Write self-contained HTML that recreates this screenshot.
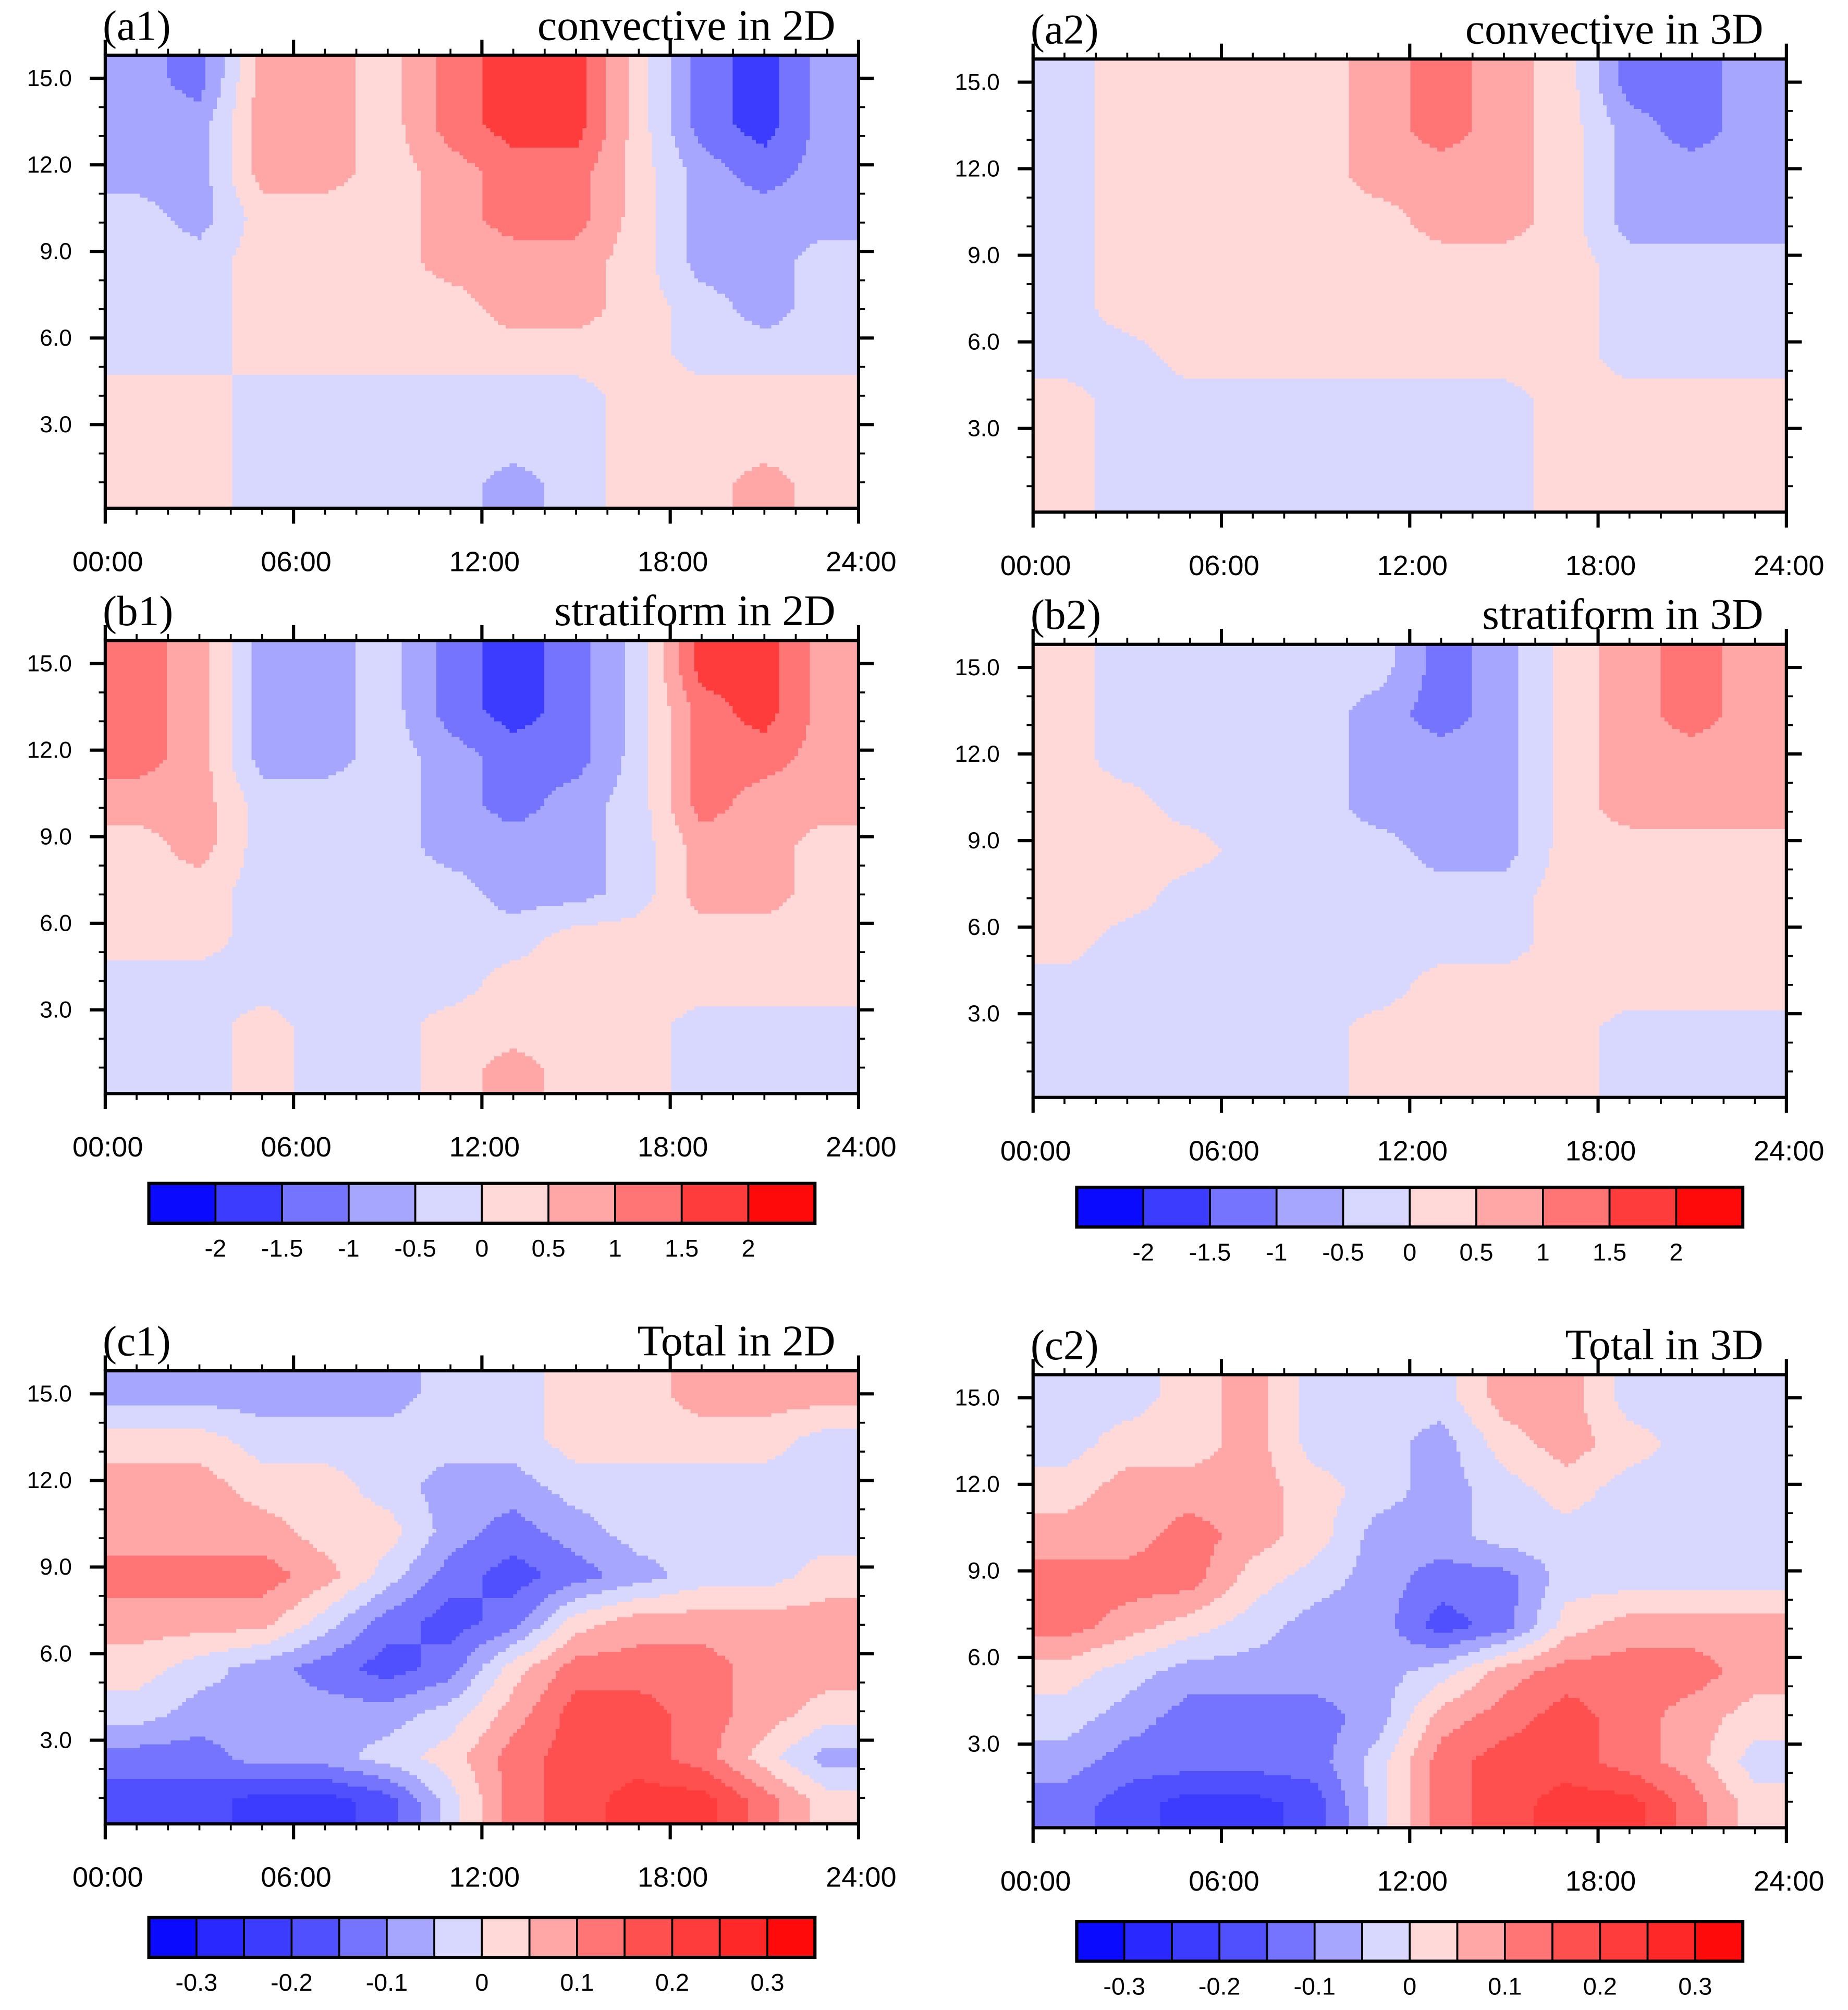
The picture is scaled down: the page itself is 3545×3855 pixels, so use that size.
<!DOCTYPE html>
<html><head><meta charset="utf-8"><style>
html,body{margin:0;padding:0;background:#fff;}
svg{display:block;}
</style></head><body>
<svg id="fig" width="3545" height="3855" viewBox="0 0 1440 1566" preserveAspectRatio="none" xmlns="http://www.w3.org/2000/svg"></svg>
<script>
const NS="http://www.w3.org/2000/svg";
const fig=document.getElementById('fig');
// ---- data ----
const timeTicks=["00:00","06:00","12:00","18:00","24:00"];
const heightTicks=["3.0","6.0","9.0","12.0","15.0"];
const heightTickValues=[3,6,9,12,15];
const timeCenters=[1,3,5,7,9,11,13,15,17,19,21,23];
const heightRowsTopDown=[15.0,13.4,11.8,10.2,8.7,7.1,5.5,3.9,2.4,0.9];
const levelsTop=[-2.5,-2,-1.5,-1,-0.5,0,0.5,1,1.5,2,2.5];
const levelsBottom=[-0.35,-0.3,-0.25,-0.2,-0.15,-0.1,-0.05,0,0.05,0.1,0.15,0.2,0.25,0.3,0.35];
const colorsTop=["#0a0aff","#3c3cff","#7474ff","#a6a6ff","#d8d8ff","#ffd8d8","#ffa6a6","#ff7474","#ff3c3c","#ff0a0a"];
const colorsBottom=["#0a0aff","#2828ff","#3c3cff","#5050ff","#7474ff","#a6a6ff","#d8d8ff","#ffd8d8","#ffa6a6","#ff7474","#ff5050","#ff3c3c","#ff2828","#ff0a0a"];
const cbTopLabels=["-2","-1.5","-1","-0.5","0","0.5","1","1.5","2"];
const cbBottomLabels=["-0.3","-0.2","-0.1","0","0.1","0.2","0.3"];
const a1=[
[-0.75,-1.25,0.75,0.75,0.25,1.25,1.75,1.75,0.25,-1.25,-1.75,-0.75],
[-0.75,-0.75,0.75,0.75,0.25,1.25,1.75,1.75,0.25,-1.25,-1.75,-0.75],
[-0.75,-0.75,0.75,0.75,0.25,0.75,1.25,1.25,0.25,-0.75,-1.25,-0.75],
[-0.25,-0.75,0.25,0.25,0.25,0.75,1.25,1.25,0.25,-0.75,-0.75,-0.75],
[-0.25,-0.25,0.25,0.25,0.25,0.75,0.75,0.75,0.25,-0.75,-0.75,-0.25],
[-0.25,-0.25,0.25,0.25,0.25,0.25,0.75,0.75,0.25,-0.25,-0.75,-0.25],
[-0.25,-0.25,0.25,0.25,0.25,0.25,0.25,0.25,0.25,-0.25,-0.25,-0.25],
[0.25,0.25,-0.25,-0.25,-0.25,-0.25,-0.25,-0.25,0.25,0.25,0.25,0.25],
[0.25,0.25,-0.25,-0.25,-0.25,-0.25,-0.25,-0.25,0.25,0.25,0.25,0.25],
[0.25,0.25,-0.25,-0.25,-0.25,-0.25,-0.75,-0.25,0.25,0.25,0.75,0.25]];
const a2=[
[-0.25,0.25,0.25,0.25,0.25,0.75,1.25,0.75,0.25,-1.25,-1.25,-0.75],
[-0.25,0.25,0.25,0.25,0.25,0.75,1.25,0.75,0.25,-0.75,-1.25,-0.75],
[-0.25,0.25,0.25,0.25,0.25,0.75,0.75,0.75,0.25,-0.75,-0.75,-0.75],
[-0.25,0.25,0.25,0.25,0.25,0.25,0.75,0.75,0.25,-0.75,-0.75,-0.75],
[-0.25,0.25,0.25,0.25,0.25,0.25,0.25,0.25,0.25,-0.25,-0.25,-0.25],
[-0.25,0.25,0.25,0.25,0.25,0.25,0.25,0.25,0.25,-0.25,-0.25,-0.25],
[-0.25,-0.25,0.25,0.25,0.25,0.25,0.25,0.25,0.25,-0.25,-0.25,-0.25],
[0.25,-0.25,-0.25,-0.25,-0.25,-0.25,-0.25,-0.25,0.25,0.25,0.25,0.25],
[0.25,-0.25,-0.25,-0.25,-0.25,-0.25,-0.25,-0.25,0.25,0.25,0.25,0.25],
[0.25,-0.25,-0.25,-0.25,-0.25,-0.25,-0.25,-0.25,0.25,0.25,0.25,0.25]];
const b1=[
[1.25,0.75,-0.75,-0.75,-0.25,-1.25,-1.75,-1.25,-0.25,1.75,1.75,0.75],
[1.25,0.75,-0.75,-0.75,-0.25,-1.25,-1.75,-1.25,-0.25,1.25,1.75,0.75],
[1.25,0.75,-0.75,-0.75,-0.25,-0.75,-1.25,-1.25,-0.25,1.25,1.25,0.75],
[0.75,0.75,-0.25,-0.25,-0.25,-0.75,-1.25,-0.75,-0.25,1.25,0.75,0.75],
[0.25,0.75,-0.25,-0.25,-0.25,-0.75,-0.75,-0.75,-0.25,0.75,0.75,0.25],
[0.25,0.25,-0.25,-0.25,-0.25,-0.25,-0.75,-0.75,-0.25,0.75,0.75,0.25],
[0.25,0.25,-0.25,-0.25,-0.25,-0.25,-0.25,0.25,0.25,0.25,0.25,0.25],
[-0.25,-0.25,-0.25,-0.25,-0.25,-0.25,0.25,0.25,0.25,0.25,0.25,0.25],
[-0.25,-0.25,0.25,-0.25,-0.25,0.25,0.25,0.25,0.25,-0.25,-0.25,-0.25],
[-0.25,-0.25,0.25,-0.25,-0.25,0.25,0.75,0.25,0.25,-0.25,-0.25,-0.25]];
const b2=[
[0.25,-0.25,-0.25,-0.25,-0.25,-0.25,-1.25,-0.75,0.25,0.75,1.25,0.75],
[0.25,-0.25,-0.25,-0.25,-0.25,-0.75,-1.25,-0.75,0.25,0.75,1.25,0.75],
[0.25,-0.25,-0.25,-0.25,-0.25,-0.75,-0.75,-0.75,0.25,0.75,0.75,0.75],
[0.25,0.25,-0.25,-0.25,-0.25,-0.75,-0.75,-0.75,0.25,0.75,0.75,0.75],
[0.25,0.25,0.25,-0.25,-0.25,-0.25,-0.75,-0.75,0.25,0.25,0.25,0.25],
[0.25,0.25,-0.25,-0.25,-0.25,-0.25,-0.25,-0.25,0.25,0.25,0.25,0.25],
[0.25,-0.25,-0.25,-0.25,-0.25,-0.25,-0.25,-0.25,0.25,0.25,0.25,0.25],
[-0.25,-0.25,-0.25,-0.25,-0.25,-0.25,0.25,0.25,0.25,0.25,0.25,0.25],
[-0.25,-0.25,-0.25,-0.25,-0.25,0.25,0.25,0.25,0.25,-0.25,-0.25,-0.25],
[-0.25,-0.25,-0.25,-0.25,-0.25,0.25,0.25,0.25,0.25,-0.25,-0.25,-0.25]];
const c1=[
[-0.075,-0.075,-0.075,-0.075,-0.075,-0.025,-0.025,0.025,0.025,0.075,0.075,0.075],
[0.025,0.025,-0.025,-0.025,-0.025,-0.025,-0.025,0.025,0.025,0.025,0.025,-0.025],
[0.075,0.075,0.025,0.025,-0.025,-0.075,-0.075,-0.025,-0.025,-0.025,-0.025,-0.025],
[0.075,0.075,0.075,0.025,0.025,-0.075,-0.125,-0.075,-0.025,-0.025,-0.025,-0.025],
[0.125,0.125,0.125,0.075,-0.025,-0.125,-0.175,-0.125,-0.075,-0.025,-0.025,0.025],
[0.075,0.075,0.075,-0.025,-0.125,-0.175,-0.125,0.025,0.075,0.075,0.075,0.075],
[0.025,-0.025,-0.075,-0.125,-0.175,-0.125,0.025,0.125,0.125,0.125,0.075,0.075],
[-0.025,-0.075,-0.075,-0.075,-0.075,-0.025,0.075,0.175,0.175,0.125,0.075,0.025],
[-0.125,-0.125,-0.075,-0.075,-0.025,0.025,0.125,0.175,0.175,0.125,0.025,-0.075],
[-0.175,-0.175,-0.225,-0.225,-0.175,-0.025,0.125,0.175,0.225,0.225,0.125,0.025]];
const c2=[
[-0.025,-0.025,0.025,0.075,-0.025,-0.025,-0.025,0.075,0.075,-0.025,-0.025,-0.025],
[-0.025,0.025,0.025,0.075,-0.025,-0.025,-0.075,0.025,0.075,0.025,-0.025,-0.025],
[0.025,0.075,0.075,0.075,0.025,-0.025,-0.075,-0.025,0.025,-0.025,-0.025,-0.025],
[0.075,0.075,0.125,0.075,0.025,-0.075,-0.075,-0.025,-0.025,-0.025,-0.025,-0.025],
[0.125,0.125,0.125,0.025,-0.025,-0.075,-0.125,-0.125,-0.025,-0.025,-0.025,-0.025],
[0.125,0.075,0.025,-0.025,-0.075,-0.075,-0.175,-0.125,0.025,0.075,0.075,0.075],
[0.025,-0.025,-0.075,-0.075,-0.075,-0.075,-0.025,0.075,0.125,0.125,0.125,0.075],
[-0.025,-0.075,-0.125,-0.125,-0.125,-0.075,0.075,0.125,0.175,0.125,0.075,0.025],
[-0.075,-0.125,-0.125,-0.125,-0.125,-0.025,0.125,0.175,0.175,0.125,0.075,-0.025],
[-0.125,-0.175,-0.225,-0.225,-0.175,-0.025,0.125,0.175,0.225,0.225,0.125,0.025]];

function mk(tag,attrs,parent){const e=document.createElementNS(NS,tag);for(const k in attrs)e.setAttribute(k,attrs[k]);(parent||fig).appendChild(e);return e;}
function colorFor(v,levels,colors){for(let i=0;i<colors.length;i++){if(v<levels[i+1])return colors[i];}return colors[colors.length-1];}
function sample(data,t,h){
 const tc=timeCenters, hc=heightRowsTopDown;
 let i=0; if(t<=tc[0]) i=0; else if(t>=tc[tc.length-1]) i=tc.length-2; else {while(tc[i+1]<t)i++;}
 let fx=(t-tc[i])/(tc[i+1]-tc[i]); fx=Math.max(0,Math.min(1,fx));
 let j=0; if(h>=hc[0]) j=0; else if(h<=hc[hc.length-1]) j=hc.length-2; else {while(hc[j+1]>h)j++;}
 let fy=(h-hc[j])/(hc[j+1]-hc[j]); fy=Math.max(0,Math.min(1,fy));
 const v00=data[j][i],v01=data[j][i+1],v10=data[j+1][i],v11=data[j+1][i+1];
 return (v00*(1-fx)+v01*fx)*(1-fy)+(v10*(1-fx)+v11*fx)*fy;
}

const panels=[
 {id:'a1',label:'(a1)',title:'convective in 2D',x:82,y:43,data:a1,lv:levelsTop,cl:colorsTop},
 {id:'a2',label:'(a2)',title:'convective in 3D',x:805,y:46,data:a2,lv:levelsTop,cl:colorsTop},
 {id:'b1',label:'(b1)',title:'stratiform in 2D',x:82,y:499,data:b1,lv:levelsTop,cl:colorsTop},
 {id:'b2',label:'(b2)',title:'stratiform in 3D',x:805,y:502,data:b2,lv:levelsTop,cl:colorsTop},
 {id:'c1',label:'(c1)',title:'Total in 2D',x:82,y:1068,data:c1,lv:levelsBottom,cl:colorsBottom},
 {id:'c2',label:'(c2)',title:'Total in 3D',x:805,y:1071,data:c2,lv:levelsBottom,cl:colorsBottom}];
const W=587,H=353,YMIN=0.1,YMAX=15.8,STEP=3;
panels.forEach(p=>{
 const g=mk('g',{});
 
 
 const cg=mk('g',{'shape-rendering':'crispEdges'},g);
 
 
 function flush(x0,x1,py,col){
  const r=mk('rect',{x:p.x+x0,y:p.y+py,width:x1-x0+0.5,height:Math.min(STEP,H-py)+0.5,fill:col},cg);
  
  
 }
 for(let py=0;py<H;py+=STEP){
  const h=YMAX-(py+STEP/2)/H*(YMAX-YMIN);
  let runStart=0,runColor=null;
  for(let px=0;px<W;px+=STEP){
   const t=Math.min(24,(px+STEP/2)/W*24);
   const c=colorFor(sample(p.data,t,h),p.lv,p.cl);
   if(c!==runColor){
    if(runColor!==null) flush(runStart,px,py,runColor);
    runStart=px;runColor=c;
   }
  }
  flush(runStart,W,py,runColor);
 }
 const fr=mk('rect',{x:p.x,y:p.y,width:W,height:H,fill:'none',stroke:'#000','stroke-width':2.5},g);
 
 
 const xs=t=>p.x+t/24*W, ys=h=>p.y+H-(h-YMIN)/(YMAX-YMIN)*H;
 for(let h=0;h<=24;h++){
  const major=h%6===0,L=major?12:5,x=xs(h);
  mk('line',{x1:x,y1:p.y+H,x2:x,y2:p.y+H+L,stroke:'#000','stroke-width':major?2.5:1.5},g);
  mk('line',{x1:x,y1:p.y,x2:x,y2:p.y-L,stroke:'#000','stroke-width':major?2.5:1.5},g);
 }
 timeTicks.forEach((s,i)=>{const t=mk('text',{x:xs(i*6)+2,y:p.y+H+49,'text-anchor':'middle','font-size':22,'font-family':'Liberation Sans, sans-serif'},g);t.textContent=s;
  
  });
 for(let h=1;h<=15;h++){
  const major=h%3===0,L=major?12:5,y=ys(h);
  mk('line',{x1:p.x,y1:y,x2:p.x-L,y2:y,stroke:'#000','stroke-width':major?2.5:1.5},g);
  mk('line',{x1:p.x+W,y1:y,x2:p.x+W+L,y2:y,stroke:'#000','stroke-width':major?2.5:1.5},g);
 }
 heightTicks.forEach((s,i)=>{const t=mk('text',{x:p.x-26,y:ys(heightTickValues[i])+6,'text-anchor':'end','font-size':18,'font-family':'Liberation Sans, sans-serif'},g);t.textContent=s;
  
  });
 const lb=mk('text',{x:p.x-2,y:p.y-12,'font-size':33,'font-family':'Liberation Serif, serif'},g);lb.textContent=p.label;
 
 
 const tt=mk('text',{x:p.x+W-18,y:p.y-12,'text-anchor':'end','font-size':34,'font-family':'Liberation Serif, serif'},g);tt.textContent=p.title;
 
 
});
const bars=[
 {x:116,y:922,cl:colorsTop,labels:cbTopLabels,first:1,every:1},
 {x:839,y:925,cl:colorsTop,labels:cbTopLabels,first:1,every:1},
 {x:116,y:1494,cl:colorsBottom,labels:cbBottomLabels,first:1,every:2},
 {x:839,y:1497,cl:colorsBottom,labels:cbBottomLabels,first:1,every:2}];
bars.forEach(b=>{
 const g=mk('g',{});
 
 
 const bw=519/b.cl.length;
 b.cl.forEach((c,i)=>{mk('rect',{x:b.x+i*bw,y:b.y,width:bw,height:31,fill:c,stroke:'#000','stroke-width':1.5},g);});
 mk('rect',{x:b.x,y:b.y,width:519,height:31,fill:'none',stroke:'#000','stroke-width':2.5},g);
 b.labels.forEach((s,i)=>{const t=mk('text',{x:b.x+(b.first+i*b.every)*bw,y:b.y+57,'text-anchor':'middle','font-size':19,'font-family':'Liberation Sans, sans-serif'},g);t.textContent=s;
  
  });
});
</script>
</body></html>
